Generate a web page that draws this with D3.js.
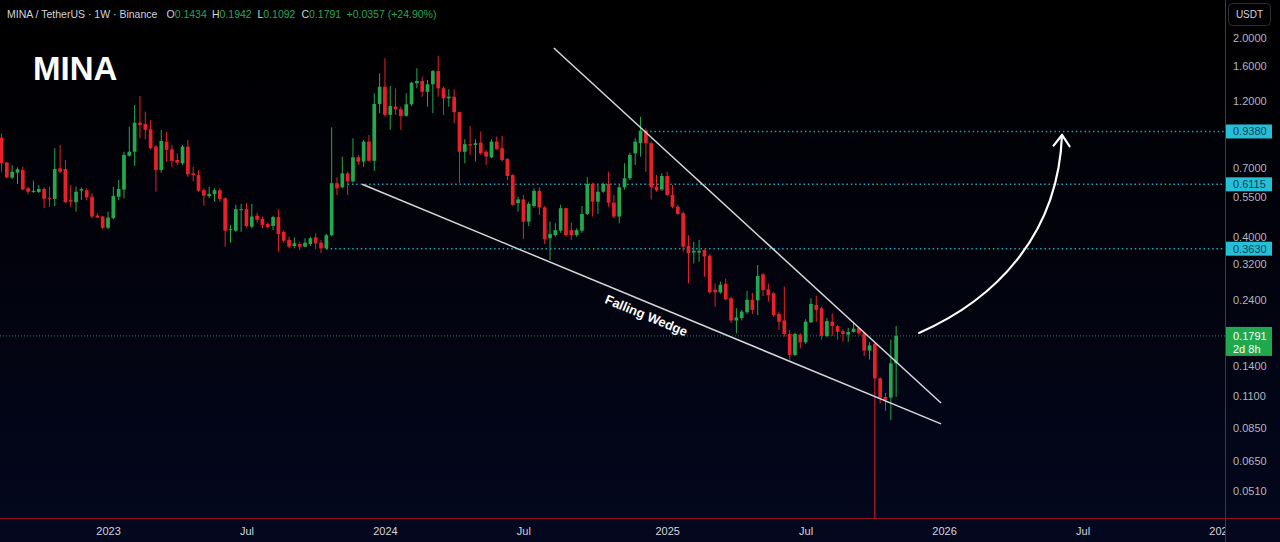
<!DOCTYPE html>
<html>
<head>
<meta charset="utf-8">
<script src="https://cdn.jsdelivr.net/npm/d3@7"></script>
<style>
  html, body { margin: 0; padding: 0; background: #000; overflow: hidden; }
  svg { display: block; }
  text { font-family: "Liberation Sans", Arial, sans-serif; }
</style>
</head>
<body>
<svg id="chart" width="1280" height="542"></svg>
<script>
// MINA / USDT weekly candles (Binance), first bar week starting 2022-08-15
const firstWeek = "2022-08-15";

const open = [
  0.892, 0.729, 0.646, 0.672, 0.686, 0.592, 0.574, 0.574, 0.589, 0.548,
  0.543, 0.696, 0.692, 0.538, 0.529, 0.581, 0.583, 0.553, 0.475, 0.471,
  0.430, 0.465, 0.553, 0.586, 0.771, 0.796, 1.007, 0.997, 0.955, 0.830,
  0.686, 0.864, 0.812, 0.745, 0.725, 0.830, 0.668, 0.659, 0.583, 0.556,
  0.565, 0.583, 0.546, 0.422, 0.420, 0.498, 0.500, 0.434, 0.474, 0.462,
  0.444, 0.436, 0.469, 0.416, 0.390, 0.371, 0.377, 0.369, 0.377, 0.398,
  0.381, 0.364, 0.405, 0.617, 0.597, 0.668, 0.626, 0.761, 0.735, 0.864,
  0.740, 1.172, 1.348, 1.073, 1.147, 1.123, 1.065, 1.169, 1.386, 1.412,
  1.294, 1.375, 1.530, 1.331, 1.227, 1.243, 1.097, 0.796, 0.846, 0.841,
  0.857, 0.796, 0.761, 0.864, 0.819, 0.751, 0.659, 0.525, 0.541, 0.452,
  0.513, 0.580, 0.507, 0.395, 0.405, 0.420, 0.504, 0.422, 0.405, 0.420,
  0.481, 0.613, 0.531, 0.576, 0.613, 0.527, 0.471, 0.597, 0.642, 0.786,
  0.853, 0.944, 0.853, 0.600, 0.586, 0.654, 0.561, 0.510, 0.484, 0.371,
  0.352, 0.352, 0.359, 0.343, 0.260, 0.255, 0.273, 0.243, 0.203, 0.207,
  0.217, 0.240, 0.239, 0.295, 0.261, 0.253, 0.214, 0.203, 0.182, 0.1535,
  0.181, 0.170, 0.200, 0.230, 0.224, 0.179, 0.201, 0.194, 0.186, 0.181,
  0.185, 0.191, 0.183, 0.159, 0.168, 0.127, 0.1092, 0.1087, 0.1434
];
const high = [
  0.925, 0.735, 0.715, 0.702, 0.705, 0.600, 0.630, 0.608, 0.597, 0.600,
  0.819, 0.841, 0.745, 0.608, 0.600, 0.596, 0.592, 0.569, 0.484, 0.474,
  0.490, 0.600, 0.633, 0.796, 0.975, 1.162, 1.250, 1.101, 1.029, 0.841,
  0.950, 0.937, 0.841, 0.786, 0.841, 0.876, 0.705, 0.686, 0.592, 0.600,
  0.592, 0.592, 0.550, 0.440, 0.518, 0.522, 0.525, 0.522, 0.486, 0.471,
  0.448, 0.474, 0.500, 0.422, 0.400, 0.398, 0.384, 0.395, 0.400, 0.411,
  0.390, 0.409, 0.970, 0.648, 0.765, 0.677, 0.888, 0.776, 0.876, 0.912,
  1.279, 1.502, 1.697, 1.356, 1.331, 1.147, 1.279, 1.403, 1.565, 1.462,
  1.424, 1.543, 1.728, 1.348, 1.320, 1.320, 1.101, 0.881, 0.980, 0.881,
  0.937, 0.808, 0.881, 0.900, 0.905, 0.755, 0.664, 0.553, 0.561, 0.531,
  0.592, 0.597, 0.513, 0.452, 0.446, 0.518, 0.506, 0.448, 0.428, 0.513,
  0.648, 0.620, 0.608, 0.620, 0.677, 0.561, 0.608, 0.725, 0.790, 0.888,
  1.057, 0.963, 0.864, 0.659, 0.668, 0.677, 0.608, 0.518, 0.490, 0.405,
  0.384, 0.390, 0.361, 0.347, 0.274, 0.278, 0.285, 0.246, 0.224, 0.221,
  0.258, 0.254, 0.318, 0.298, 0.274, 0.255, 0.218, 0.267, 0.188, 0.184,
  0.183, 0.205, 0.243, 0.248, 0.227, 0.207, 0.215, 0.196, 0.189, 0.191,
  0.201, 0.193, 0.184, 0.170, 0.170, 0.128, 0.1128, 0.174, 0.1942
];
const low = [
  0.677, 0.642, 0.637, 0.613, 0.583, 0.565, 0.571, 0.571, 0.504, 0.510,
  0.513, 0.668, 0.525, 0.510, 0.490, 0.538, 0.538, 0.465, 0.465, 0.425,
  0.425, 0.461, 0.538, 0.546, 0.765, 0.710, 0.888, 0.881, 0.812, 0.576,
  0.672, 0.735, 0.702, 0.715, 0.715, 0.650, 0.626, 0.576, 0.514, 0.546,
  0.531, 0.531, 0.369, 0.381, 0.416, 0.416, 0.432, 0.428, 0.448, 0.428,
  0.428, 0.422, 0.355, 0.381, 0.364, 0.364, 0.359, 0.367, 0.371, 0.361,
  0.350, 0.361, 0.402, 0.561, 0.592, 0.561, 0.620, 0.715, 0.705, 0.735,
  0.682, 1.087, 1.057, 0.950, 1.073, 0.950, 1.057, 1.153, 1.331, 1.243,
  1.147, 1.087, 1.243, 1.073, 1.147, 1.002, 0.617, 0.725, 0.776, 0.735,
  0.776, 0.715, 0.755, 0.808, 0.735, 0.633, 0.513, 0.490, 0.392, 0.436,
  0.507, 0.477, 0.377, 0.331, 0.400, 0.413, 0.400, 0.390, 0.400, 0.413,
  0.477, 0.471, 0.481, 0.571, 0.510, 0.465, 0.446, 0.586, 0.633, 0.715,
  0.765, 0.677, 0.541, 0.576, 0.580, 0.556, 0.504, 0.477, 0.355, 0.274,
  0.322, 0.327, 0.289, 0.252, 0.227, 0.252, 0.239, 0.199, 0.183, 0.203,
  0.214, 0.214, 0.212, 0.247, 0.236, 0.209, 0.188, 0.178, 0.1477, 0.1523,
  0.162, 0.168, 0.199, 0.201, 0.1735, 0.177, 0.179, 0.1735, 0.171, 0.171,
  0.184, 0.180, 0.152, 0.148, 0.020, 0.1036, 0.0976, 0.0905, 0.1092
];
const close = [
  0.725, 0.646, 0.677, 0.691, 0.586, 0.576, 0.580, 0.589, 0.544, 0.544,
  0.692, 0.677, 0.529, 0.531, 0.576, 0.588, 0.550, 0.471, 0.467, 0.430,
  0.467, 0.556, 0.589, 0.776, 0.796, 1.007, 0.989, 0.950, 0.819, 0.686,
  0.869, 0.808, 0.739, 0.729, 0.830, 0.663, 0.659, 0.580, 0.558, 0.565,
  0.583, 0.543, 0.420, 0.425, 0.500, 0.500, 0.436, 0.471, 0.459, 0.440,
  0.432, 0.469, 0.409, 0.387, 0.369, 0.379, 0.369, 0.381, 0.395, 0.379,
  0.364, 0.405, 0.617, 0.592, 0.668, 0.626, 0.761, 0.735, 0.864, 0.740,
  1.172, 1.348, 1.073, 1.153, 1.123, 1.063, 1.169, 1.392, 1.412, 1.294,
  1.375, 1.530, 1.331, 1.227, 1.243, 1.097, 0.796, 0.846, 0.837, 0.853,
  0.786, 0.765, 0.864, 0.812, 0.745, 0.654, 0.518, 0.541, 0.452, 0.522,
  0.580, 0.507, 0.392, 0.409, 0.422, 0.504, 0.405, 0.405, 0.422, 0.481,
  0.613, 0.531, 0.576, 0.613, 0.527, 0.471, 0.597, 0.642, 0.776, 0.864,
  0.944, 0.853, 0.597, 0.583, 0.654, 0.561, 0.510, 0.481, 0.369, 0.350,
  0.357, 0.357, 0.341, 0.255, 0.255, 0.271, 0.241, 0.203, 0.208, 0.218,
  0.240, 0.221, 0.291, 0.260, 0.249, 0.212, 0.201, 0.182, 0.1535, 0.182,
  0.170, 0.201, 0.232, 0.221, 0.179, 0.202, 0.194, 0.185, 0.182, 0.185,
  0.190, 0.183, 0.159, 0.166, 0.127, 0.1087, 0.1064, 0.1434, 0.1791
];

// axis ticks
const priceTicks = [2.0, 1.6, 1.2, 0.7, 0.55, 0.4, 0.32, 0.24, 0.14, 0.11, 0.085, 0.065, 0.051];
const timeTicks = ["2023-01-02", "2023-07-03", "2024-01-01", "2024-07-01", "2025-01-06",
                   "2025-07-07", "2026-01-05", "2026-07-06", "2027-01-04"];
const timeTickLabels = ["2023", "Jul", "2024", "Jul", "2025", "Jul", "2026", "Jul", "2027"];

// horizontal levels (price, start week)
const levelPrices = [0.938, 0.6115, 0.363];
const levelStarts = ["2024-12-09", "2023-11-13", "2023-10-16"];

// falling wedge trendlines [date, price]
const wedgeUpper = [["2024-08-10", 1.844], ["2026-01-01", 0.104]];
const wedgeLower = [["2023-12-02", 0.6115], ["2026-01-01", 0.0878]];

// projected breakout curve: start, two control points, end [date, price]
const arrowCurve = [
  ["2025-12-03", 0.1835], ["2026-03-13", 0.240], ["2026-06-04", 0.405], ["2026-06-09", 0.912]
];

const symbolTitle = "MINA";
const headerText = "MINA / TetherUS \u00b7 1W \u00b7 Binance";
const countdown = "2d 8h";

// ---------------------------------------------------------------
const W = 1280, H = 542, plotR = 1225, plotB = 518;
const GREEN = "#22a94f", RED = "#e8202a", CYAN = "#25c0d6";
const parse = d3.utcParse("%Y-%m-%d");
const fmt4 = d3.format(".4f");

const start = parse(firstWeek);
const weeks = d3.utcMonday.range(start, d3.utcDay.offset(start, 7 * open.length));
const bars = weeks.map((d, i) => ({ date: d, o: open[i], h: high[i], l: low[i], c: close[i] }));

const x = d3.scaleUtc().domain([parse("2022-08-15"), parse("2027-01-04")]).range([1.5, 1221]);
const y = d3.scaleLog().domain([0.051, 2]).range([491, 38]);

const svg = d3.select("#chart");
const defs = svg.append("defs");

const grad = defs.append("linearGradient").attr("id", "bg")
  .attr("gradientUnits", "userSpaceOnUse")
  .attr("x1", 0).attr("y1", 0).attr("x2", 0).attr("y2", H);
grad.append("stop").attr("offset", 0).attr("stop-color", "#000000");
grad.append("stop").attr("offset", 0.45).attr("stop-color", "#01020b");
grad.append("stop").attr("offset", 1).attr("stop-color", "#04081f");

defs.append("clipPath").attr("id", "plotClip")
  .append("rect").attr("x", 0).attr("y", 0).attr("width", plotR).attr("height", plotB);

defs.append("marker").attr("id", "arrowHead")
  .attr("viewBox", "-14 -10 16 20").attr("refX", 0).attr("refY", 0)
  .attr("markerWidth", 16).attr("markerHeight", 20)
  .attr("markerUnits", "userSpaceOnUse").attr("orient", "auto")
  .append("path").attr("d", "M-11,-8 L0,0 L-11,8")
  .attr("fill", "none").attr("stroke", "#ffffff").attr("stroke-width", 2.2)
  .attr("stroke-linecap", "round").attr("stroke-linejoin", "round");

svg.append("rect").attr("width", W).attr("height", H).attr("fill", "url(#bg)");

const plot = svg.append("g").attr("clip-path", "url(#plotClip)");

// level lines
plot.selectAll("line.level").data(levelPrices).join("line")
  .attr("class", "level")
  .attr("x1", (d, i) => x(parse(levelStarts[i]))).attr("x2", plotR)
  .attr("y1", d => y(d)).attr("y2", d => y(d))
  .attr("stroke", CYAN).attr("stroke-width", 1.5)
  .attr("stroke-dasharray", "1.5,2.8").attr("opacity", 0.85);

// last price line
const last = bars[bars.length - 1];
const prev = bars[bars.length - 2];
plot.append("line")
  .attr("x1", 0).attr("x2", plotR).attr("y1", y(last.c)).attr("y2", y(last.c))
  .attr("stroke", "#1f8a45").attr("stroke-width", 1).attr("stroke-dasharray", "1,2");

// candles
const bw = 3.7;
const candle = plot.selectAll("g.candle").data(bars).join("g").attr("class", "candle");
candle.append("line")
  .attr("x1", d => x(d.date)).attr("x2", d => x(d.date))
  .attr("y1", d => y(d.h)).attr("y2", d => y(d.l))
  .attr("stroke", d => d.c >= d.o ? GREEN : RED).attr("stroke-width", 1);
candle.append("rect")
  .attr("x", d => x(d.date) - bw / 2).attr("width", bw)
  .attr("y", d => y(Math.max(d.o, d.c)))
  .attr("height", d => Math.max(1, Math.abs(y(d.o) - y(d.c))))
  .attr("fill", d => d.c >= d.o ? GREEN : RED);

// wedge trendlines
const pt = d => [x(parse(d[0])), y(d[1])];
[wedgeUpper, wedgeLower].forEach(seg => {
  const [a, b] = seg.map(pt);
  plot.append("line").attr("x1", a[0]).attr("y1", a[1]).attr("x2", b[0]).attr("y2", b[1])
    .attr("stroke", "#d8d8d8").attr("stroke-width", 1.5);
});

// wedge caption along the lower line
{
  const [a, b] = wedgeLower.map(pt);
  const ang = Math.atan2(b[1] - a[1], b[0] - a[0]) * 180 / Math.PI;
  const px = x(parse("2024-12-16"));
  const py = a[1] + (b[1] - a[1]) * (px - a[0]) / (b[0] - a[0]);
  plot.append("text")
    .attr("transform", `translate(${px},${py}) rotate(${ang})`)
    .attr("y", 17).attr("text-anchor", "middle")
    .attr("fill", "#ffffff").attr("font-size", 13).attr("font-weight", "bold")
    .text("Falling Wedge");
}

// projected move arrow (cubic curve)
{
  const [p0, c1, c2, p1] = arrowCurve.map(pt);
  const path = d3.path();
  path.moveTo(p0[0], p0[1]);
  path.bezierCurveTo(c1[0], c1[1], c2[0], c2[1], p1[0], p1[1]);
  plot.append("path").attr("d", path.toString())
    .attr("fill", "none").attr("stroke", "#ffffff").attr("stroke-width", 2.2)
    .attr("stroke-linecap", "round").attr("marker-end", "url(#arrowHead)");
}

// symbol title
svg.append("text").attr("x", 33).attr("y", 80)
  .attr("fill", "#ffffff").attr("font-size", 33).attr("font-weight", "bold")
  .text(symbolTitle);

// header legend
const hdr = svg.append("g").attr("font-size", 10.5);
hdr.append("text").attr("x", 7).attr("y", 18).attr("fill", "#d1d4dc").text(headerText);
const chg = last.c - prev.c;
const legend = [
  ["O", last.o, 166.5], ["H", last.h, 212], ["L", last.l, 257.5], ["C", last.c, 301.5]
];
legend.forEach(([k, v, lx]) => {
  const t = hdr.append("text").attr("x", lx).attr("y", 18);
  t.append("tspan").attr("fill", "#d1d4dc").text(k);
  t.append("tspan").attr("fill", "#26a65b").text(fmt4(v));
});
hdr.append("text").attr("x", 346.5).attr("y", 18).attr("fill", "#26a65b")
  .text(`${chg >= 0 ? "+" : ""}${fmt4(chg)} (${chg >= 0 ? "+" : ""}${d3.format(".2f")(chg / prev.c * 100)}%)`);

// time axis
const xAxis = d3.axisBottom(x)
  .tickValues(timeTicks.map(parse))
  .tickFormat((d, i) => timeTickLabels[i])
  .tickSize(0).tickPadding(9);
const gx = svg.append("g").attr("transform", `translate(0,${plotB})`).call(xAxis);
gx.select(".domain").remove();
gx.selectAll("text").attr("fill", "#d1d4dc").attr("font-size", 11)
  .attr("font-family", "'Liberation Sans', Arial, sans-serif");

// price axis panel
svg.append("rect").attr("x", plotR + 0.5).attr("y", 0).attr("width", W - plotR).attr("height", H)
  .attr("fill", "url(#bg)");
const yAxis = d3.axisRight(y).tickValues(priceTicks).tickFormat(fmt4).tickSize(0).tickPadding(8);
const gy = svg.append("g").attr("transform", `translate(${plotR},0)`).call(yAxis);
gy.select(".domain").remove();
gy.selectAll("text").attr("fill", "#b2b5be").attr("font-size", 11)
  .attr("font-family", "'Liberation Sans', Arial, sans-serif");

// pane borders
svg.append("line").attr("x1", 0).attr("x2", W).attr("y1", plotB + 0.5).attr("y2", plotB + 0.5)
  .attr("stroke", "#8f1820").attr("stroke-width", 1);
svg.append("line").attr("x1", plotR + 0.5).attr("x2", plotR + 0.5).attr("y1", 0).attr("y2", H)
  .attr("stroke", "#8f1820").attr("stroke-width", 1);

// currency badge
svg.append("rect").attr("x", 1228.5).attr("y", 3.5).attr("width", 42).attr("height", 22).attr("rx", 4)
  .attr("fill", "#000000").attr("stroke", "#2a2e39");
svg.append("text").attr("x", 1249.5).attr("y", 18).attr("text-anchor", "middle")
  .attr("fill", "#d1d4dc").attr("font-size", 10).text("USDT");

// level price tags
const tags = svg.selectAll("g.tag").data(levelPrices).join("g").attr("class", "tag");
tags.append("rect").attr("x", plotR + 1).attr("width", 46).attr("height", 14)
  .attr("y", d => y(d) - 7).attr("fill", CYAN);
tags.append("text").attr("x", plotR + 8).attr("y", d => y(d)).attr("dy", "0.35em")
  .attr("fill", "#123e5e").attr("font-size", 11).text(d => fmt4(d));

// last price tag with countdown
svg.append("rect").attr("x", plotR + 1).attr("y", y(last.c) - 9).attr("width", 46).attr("height", 29)
  .attr("fill", "#1fa84d");
svg.append("text").attr("x", plotR + 8).attr("y", y(last.c)).attr("dy", "0.35em")
  .attr("fill", "#ffffff").attr("font-size", 11).text(fmt4(last.c));
svg.append("text").attr("x", plotR + 8).attr("y", y(last.c) + 13).attr("dy", "0.35em")
  .attr("fill", "#ffffff").attr("font-size", 11).text(countdown);
</script>
</body>
</html>
